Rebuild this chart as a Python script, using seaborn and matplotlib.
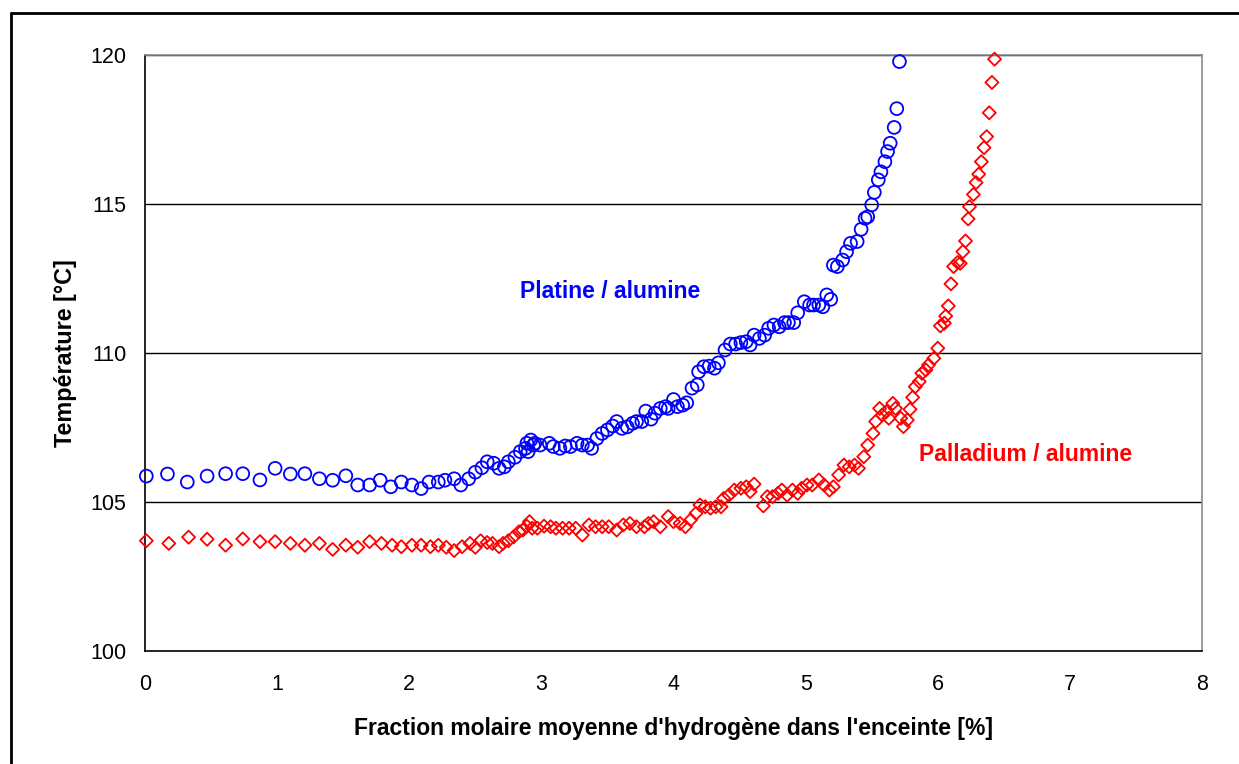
import matplotlib
matplotlib.use("Agg")
import matplotlib.pyplot as plt
from matplotlib.lines import Line2D
import seaborn as sns
import pandas as pd

# Platine / alumine : fraction molaire H2 [%] et température [°C]
pt_x = [0.01, 0.17, 0.32, 0.47, 0.61, 0.74, 0.87, 0.985, 1.10, 1.21, 1.32, 1.42,
        1.52, 1.61, 1.70, 1.78, 1.86, 1.94, 2.02, 2.09, 2.15, 2.22, 2.27, 2.34,
        2.39, 2.45, 2.50, 2.55, 2.59, 2.64, 2.68, 2.72, 2.75, 2.80, 2.84, 2.88,
        2.89, 2.90, 2.92, 2.94, 2.95, 2.99, 3.06, 3.09, 3.14, 3.18, 3.22, 3.27,
        3.31, 3.35, 3.38, 3.42, 3.46, 3.50, 3.54, 3.57, 3.61, 3.65, 3.69, 3.72,
        3.76, 3.79, 3.83, 3.86, 3.90, 3.94, 3.96, 4.00, 4.03, 4.07, 4.10, 4.14,
        4.18, 4.19, 4.23, 4.27, 4.31, 4.34, 4.39, 4.43, 4.47, 4.51, 4.55, 4.58,
        4.61, 4.65, 4.69, 4.72, 4.76, 4.80, 4.84, 4.87, 4.91, 4.94, 4.99, 5.03,
        5.06, 5.10, 5.13, 5.16, 5.19, 5.21, 5.24, 5.28, 5.31, 5.34, 5.39, 5.42,
        5.45, 5.47, 5.50, 5.52, 5.55, 5.57, 5.60, 5.62, 5.64, 5.67, 5.69, 5.71]
pt_y = [105.87, 105.94, 105.67, 105.87, 105.95, 105.95, 105.74, 106.13, 105.94, 105.95, 105.78, 105.73,
        105.88, 105.57, 105.57, 105.73, 105.51, 105.67, 105.57, 105.45, 105.67, 105.67, 105.73, 105.78,
        105.57, 105.78, 106.00, 106.15, 106.35, 106.30, 106.13, 106.18, 106.35, 106.50, 106.69, 106.80,
        106.97, 106.69, 107.08, 106.91, 106.97, 106.91, 106.97, 106.86, 106.80, 106.88, 106.86, 106.97,
        106.91, 106.91, 106.80, 107.13, 107.30, 107.42, 107.55, 107.70, 107.47, 107.52, 107.64, 107.70,
        107.70, 108.05, 107.78, 107.98, 108.14, 108.20, 108.14, 108.44, 108.20, 108.25, 108.33, 108.82,
        108.93, 109.37, 109.54, 109.56, 109.49, 109.67, 110.10, 110.30, 110.30, 110.35, 110.38, 110.27,
        110.60, 110.49, 110.60, 110.83, 110.94, 110.88, 111.02, 111.02, 111.02, 111.35, 111.72, 111.61,
        111.61, 111.61, 111.55, 111.95, 111.80, 112.95, 112.90, 113.12, 113.40, 113.68, 113.74, 114.15,
        114.52, 114.57, 114.97, 115.39, 115.81, 116.08, 116.42, 116.76, 117.04, 117.57, 118.20, 119.78]

# Palladium / alumine
pd_x = [0.01, 0.18, 0.33, 0.47, 0.61, 0.74, 0.87, 0.985, 1.10, 1.21, 1.32, 1.42,
        1.52, 1.61, 1.70, 1.79, 1.87, 1.94, 2.02, 2.09, 2.16, 2.22, 2.28, 2.34,
        2.40, 2.46, 2.50, 2.54, 2.59, 2.63, 2.68, 2.71, 2.75, 2.79, 2.83, 2.86,
        2.89, 2.91, 2.93, 2.97, 3.02, 3.07, 3.11, 3.16, 3.21, 3.26, 3.31, 3.36,
        3.41, 3.46, 3.51, 3.57, 3.62, 3.67, 3.72, 3.78, 3.81, 3.85, 3.90, 3.96,
        4.00, 4.05, 4.09, 4.13, 4.17, 4.20, 4.24, 4.28, 4.32, 4.36, 4.38, 4.42,
        4.46, 4.51, 4.55, 4.58, 4.61, 4.68, 4.71, 4.75, 4.79, 4.82, 4.86, 4.90,
        4.94, 4.97, 5.01, 5.05, 5.10, 5.14, 5.18, 5.21, 5.25, 5.29, 5.33, 5.37,
        5.40, 5.44, 5.47, 5.51, 5.53, 5.56, 5.58, 5.61, 5.63, 5.66, 5.68, 5.72,
        5.74, 5.77, 5.79, 5.81, 5.83, 5.86, 5.88, 5.91, 5.93, 5.97, 6.00, 6.02,
        6.05, 6.06, 6.08, 6.10, 6.12, 6.15, 6.17, 6.19, 6.21, 6.23, 6.24, 6.27,
        6.29, 6.31, 6.33, 6.35, 6.37, 6.39, 6.41, 6.43]
pd_y = [103.70, 103.61, 103.82, 103.75, 103.55, 103.76, 103.67, 103.67, 103.61, 103.55, 103.61, 103.41,
        103.55, 103.48, 103.67, 103.61, 103.55, 103.50, 103.55, 103.55, 103.50, 103.55, 103.48, 103.37,
        103.50, 103.61, 103.48, 103.70, 103.64, 103.61, 103.50, 103.61, 103.70, 103.83, 104.00, 104.06,
        104.19, 104.34, 104.12, 104.12, 104.19, 104.17, 104.12, 104.12, 104.12, 104.12, 103.89, 104.23,
        104.17, 104.17, 104.17, 104.06, 104.23, 104.28, 104.17, 104.17, 104.28, 104.34, 104.17, 104.51,
        104.34, 104.28, 104.17, 104.40, 104.62, 104.90, 104.84, 104.79, 104.84, 104.84, 105.12, 105.23,
        105.40, 105.46, 105.51, 105.35, 105.60, 104.87, 105.18, 105.18, 105.29, 105.40, 105.23, 105.40,
        105.29, 105.46, 105.57, 105.57, 105.74, 105.57, 105.40, 105.51, 105.91, 106.24, 106.18, 106.24,
        106.13, 106.52, 106.91, 107.30, 107.70, 108.14, 107.92, 108.03, 107.81, 108.31, 108.14, 107.81,
        107.53, 107.75, 108.11, 108.51, 108.87, 109.04, 109.32, 109.43, 109.60, 109.82, 110.16, 110.91,
        111.00, 111.24, 111.58, 112.32, 112.90, 113.04, 113.01, 113.40, 113.76, 114.50, 114.91, 115.32,
        115.72, 116.00, 116.42, 116.89, 117.26, 118.06, 119.08, 119.86]

x_ticks = [0, 1, 2, 3, 4, 5, 6, 7, 8]
y_ticks = [100, 105, 110, 115, 120]

x_label = "Fraction molaire moyenne d'hydrogène dans l'enceinte [%]"
y_label = "Température [°C]"
label_pt = "Platine / alumine"
label_pd = "Palladium / alumine"

sns.set_theme(style="white")
plt.rcParams["font.family"] = ["Liberation Sans", "DejaVu Sans"]

fig = plt.figure(figsize=(12.39, 7.64), dpi=100)
ax = fig.add_axes([145 / 1239, 1 - 651 / 764, (1202 - 145) / 1239, (651 - 55) / 764])

df_pt = pd.DataFrame({"x": pt_x, "y": pt_y})
df_pd = pd.DataFrame({"x": pd_x, "y": pd_y})

sns.scatterplot(data=df_pt, x="x", y="y", ax=ax, marker="o", s=85,
                facecolors="none", edgecolor="#0000FF", linewidth=1.3,
                zorder=3, clip_on=False)
sns.scatterplot(data=df_pd, x="x", y="y", ax=ax, marker="D", s=44,
                facecolors="none", edgecolor="#FF0000", linewidth=1.3,
                zorder=3, clip_on=False)

ax.set_xlim(0, 8)
ax.set_ylim(100, 120)
ax.set_xticks(x_ticks)
ax.set_yticks(y_ticks)
ax.set_xticklabels([str(v) for v in x_ticks])
ax.set_yticklabels([str(v) for v in y_ticks])

for v in y_ticks[1:]:
    ax.axhline(v, color="black", linewidth=1.0, zorder=1)

ax.tick_params(axis="both", direction="out", length=5.2, width=1, color="black",
               labelsize=15.5, labelcolor="black")
ax.tick_params(axis="y", pad=8)
ax.tick_params(axis="x", pad=11)

for side in ["left", "bottom"]:
    ax.spines[side].set_color("black")
    ax.spines[side].set_linewidth(1.2)
for side in ["top", "right"]:
    ax.spines[side].set_color("#8c8c8c")
    ax.spines[side].set_linewidth(1.2)

ax.set_xlabel(x_label, fontsize=16.5, fontweight="bold", color="black", labelpad=16)
ax.set_ylabel(y_label, fontsize=16.8, fontweight="bold", color="black", labelpad=9.5)

ax.text(2.84, 112.08, label_pt, color="#0000FF", fontsize=16.5, fontweight="bold",
        ha="left", va="center")
ax.text(5.86, 106.61, label_pd, color="#FF0000", fontsize=16.5, fontweight="bold",
        ha="left", va="center")

# outer frame (left and top edges of the chart border)
fig.add_artist(Line2D([11 / 1239, 11 / 1239], [0, 1 - 13 / 764], color="black",
                      linewidth=2, transform=fig.transFigure))
fig.add_artist(Line2D([11 / 1239, 1], [1 - 13 / 764, 1 - 13 / 764], color="black",
                      linewidth=2, transform=fig.transFigure))

fig.savefig("out.png", dpi=100, facecolor="white")
